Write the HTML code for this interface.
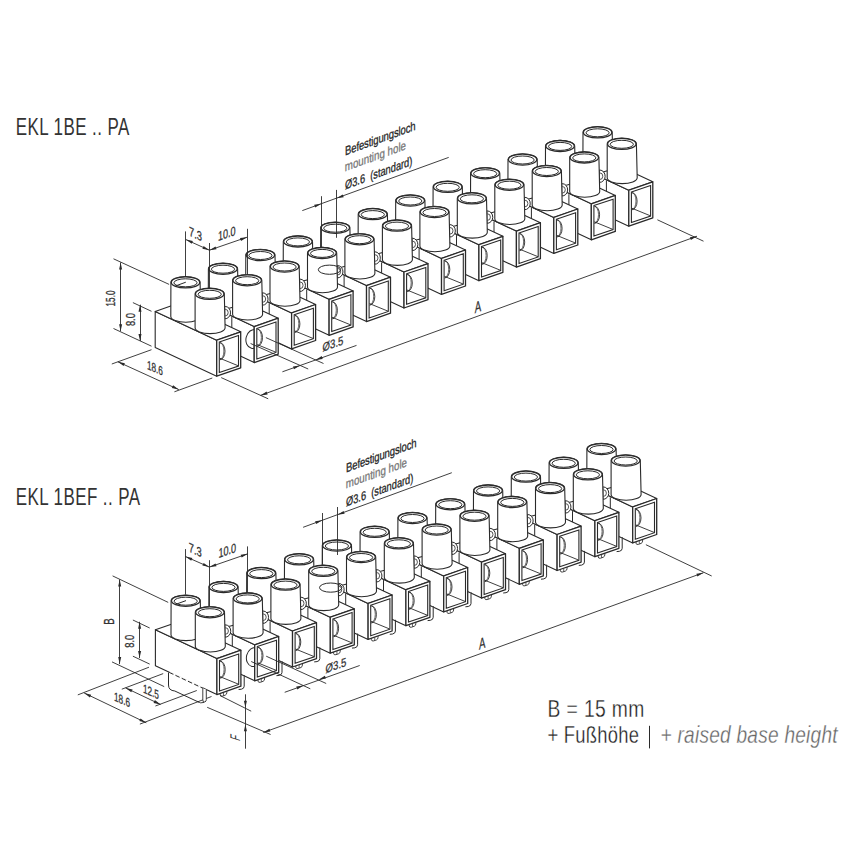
<!DOCTYPE html><html><head><meta charset="utf-8"><style>html,body{margin:0;padding:0;background:#fff;width:850px;height:850px;overflow:hidden}svg{display:block}text{font-family:"Liberation Sans",sans-serif}</style></head><body><svg width="850" height="850" viewBox="0 0 850 850"><rect width="850" height="850" fill="#fff"/><g><polygon points="628.8,190.2 567.3,161.4 567.3,197.4 628.8,226.2" fill="#fff" stroke="#2a2a2a" stroke-width="1.1" stroke-linejoin="round"/><polygon points="628.8,190.2 652.8,181.8 591.3,153 567.3,161.4" fill="#fff" stroke="#2a2a2a" stroke-width="1.1" stroke-linejoin="round"/><polygon points="628.8,190.2 652.8,181.8 652.8,217.8 628.8,226.2" fill="#fff" stroke="#2a2a2a" stroke-width="1.3" stroke-linejoin="round"/><polygon points="631.4,192 650.6,185.6 650.6,216 631.4,222.5" fill="#fff" stroke="#2a2a2a" stroke-width="1.1"/><line x1="631.8" y1="208.2" x2="650.4" y2="215.8" stroke="#2a2a2a" stroke-width="0.9"/><path d="M631.9,192.6 A5.2,8.6 0 0 1 631.9,209.8" fill="none" stroke="#2a2a2a" stroke-width="0.9"/><path d="M632.1,192.8 A3.9,8.2 0 0 1 632.1,209.2" fill="none" stroke="#2a2a2a" stroke-width="0.7"/><path d="M583,132.4 L582.9,166.4 A15,5.8 0 0 0 612.9,166.4 L612.2,132.4 A14.6,5.8 0 0 0 583,132.4 Z" fill="#fff" stroke="#2a2a2a" stroke-width="1.1"/><ellipse cx="597.6" cy="132.4" rx="14.2" ry="5.5" fill="#fff" stroke="#2a2a2a" stroke-width="1.3"/><ellipse cx="597.6" cy="132.8" rx="11.6" ry="4" fill="none" stroke="#2a2a2a" stroke-width="1"/><line x1="606.4" y1="180.6" x2="606.4" y2="194.2" stroke="#2a2a2a" stroke-width="1"/><path d="M607.2,143.9 L607.2,177.8 A15,5.8 0 0 0 637.2,177.8 L636.4,143.9 A14.6,5.8 0 0 0 607.2,143.9 Z" fill="#fff" stroke="#2a2a2a" stroke-width="1.1"/><ellipse cx="621.8" cy="143.9" rx="14.2" ry="5.5" fill="#fff" stroke="#2a2a2a" stroke-width="1.3"/><ellipse cx="621.8" cy="144.3" rx="11.6" ry="4" fill="none" stroke="#2a2a2a" stroke-width="1"/></g><g><polygon points="591.3,203.8 529.8,175 529.8,211 591.3,239.8" fill="#fff" stroke="#2a2a2a" stroke-width="1.1" stroke-linejoin="round"/><polygon points="591.3,203.8 615.3,195.4 553.8,166.6 529.8,175" fill="#fff" stroke="#2a2a2a" stroke-width="1.1" stroke-linejoin="round"/><polygon points="591.3,203.8 615.3,195.4 615.3,231.4 591.3,239.8" fill="#fff" stroke="#2a2a2a" stroke-width="1.3" stroke-linejoin="round"/><polygon points="593.9,205.6 613.1,199.2 613.1,229.6 593.9,236.1" fill="#fff" stroke="#2a2a2a" stroke-width="1.1"/><line x1="594.3" y1="221.8" x2="612.9" y2="229.4" stroke="#2a2a2a" stroke-width="0.9"/><path d="M594.4,206.2 A5.2,8.6 0 0 1 594.4,223.4" fill="none" stroke="#2a2a2a" stroke-width="0.9"/><path d="M594.6,206.4 A3.9,8.2 0 0 1 594.6,222.8" fill="none" stroke="#2a2a2a" stroke-width="0.7"/><path d="M545.5,146 L545.4,180 A15,5.8 0 0 0 575.4,180 L574.7,146 A14.6,5.8 0 0 0 545.5,146 Z" fill="#fff" stroke="#2a2a2a" stroke-width="1.1"/><ellipse cx="560.1" cy="146" rx="14.2" ry="5.5" fill="#fff" stroke="#2a2a2a" stroke-width="1.3"/><ellipse cx="560.1" cy="146.4" rx="11.6" ry="4" fill="none" stroke="#2a2a2a" stroke-width="1"/><line x1="568.9" y1="194.2" x2="568.9" y2="207.8" stroke="#2a2a2a" stroke-width="1"/><path d="M599.3,170 L599.8,170 A5.6,6.2 0 0 1 599.3,182.4 Z" fill="#fff" stroke="#2a2a2a" stroke-width="1"/><path d="M599.8,172.9 A3,3.3 0 0 1 599.8,179.5" fill="none" stroke="#2a2a2a" stroke-width="0.8"/><path d="M569.7,157.5 L569.7,191.4 A15,5.8 0 0 0 599.7,191.4 L598.9,157.5 A14.6,5.8 0 0 0 569.7,157.5 Z" fill="#fff" stroke="#2a2a2a" stroke-width="1.1"/><ellipse cx="584.3" cy="157.5" rx="14.2" ry="5.5" fill="#fff" stroke="#2a2a2a" stroke-width="1.3"/><ellipse cx="584.3" cy="157.9" rx="11.6" ry="4" fill="none" stroke="#2a2a2a" stroke-width="1"/></g><g><polygon points="553.8,217.4 492.3,188.6 492.3,224.6 553.8,253.4" fill="#fff" stroke="#2a2a2a" stroke-width="1.1" stroke-linejoin="round"/><polygon points="553.8,217.4 577.8,209 516.3,180.2 492.3,188.6" fill="#fff" stroke="#2a2a2a" stroke-width="1.1" stroke-linejoin="round"/><polygon points="553.8,217.4 577.8,209 577.8,245 553.8,253.4" fill="#fff" stroke="#2a2a2a" stroke-width="1.3" stroke-linejoin="round"/><polygon points="556.4,219.2 575.6,212.8 575.6,243.2 556.4,249.7" fill="#fff" stroke="#2a2a2a" stroke-width="1.1"/><line x1="556.8" y1="235.4" x2="575.4" y2="243" stroke="#2a2a2a" stroke-width="0.9"/><path d="M556.9,219.8 A5.2,8.6 0 0 1 556.9,237" fill="none" stroke="#2a2a2a" stroke-width="0.9"/><path d="M557.1,220 A3.9,8.2 0 0 1 557.1,236.4" fill="none" stroke="#2a2a2a" stroke-width="0.7"/><path d="M508,159.6 L507.9,193.6 A15,5.8 0 0 0 537.9,193.6 L537.2,159.6 A14.6,5.8 0 0 0 508,159.6 Z" fill="#fff" stroke="#2a2a2a" stroke-width="1.1"/><ellipse cx="522.6" cy="159.6" rx="14.2" ry="5.5" fill="#fff" stroke="#2a2a2a" stroke-width="1.3"/><ellipse cx="522.6" cy="160" rx="11.6" ry="4" fill="none" stroke="#2a2a2a" stroke-width="1"/><line x1="531.4" y1="207.8" x2="531.4" y2="221.4" stroke="#2a2a2a" stroke-width="1"/><path d="M561.8,183.6 L562.3,183.6 A5.6,6.2 0 0 1 561.8,196 Z" fill="#fff" stroke="#2a2a2a" stroke-width="1"/><path d="M562.3,186.5 A3,3.3 0 0 1 562.3,193.1" fill="none" stroke="#2a2a2a" stroke-width="0.8"/><path d="M532.2,171.1 L532.2,205 A15,5.8 0 0 0 562.2,205 L561.4,171.1 A14.6,5.8 0 0 0 532.2,171.1 Z" fill="#fff" stroke="#2a2a2a" stroke-width="1.1"/><ellipse cx="546.8" cy="171.1" rx="14.2" ry="5.5" fill="#fff" stroke="#2a2a2a" stroke-width="1.3"/><ellipse cx="546.8" cy="171.5" rx="11.6" ry="4" fill="none" stroke="#2a2a2a" stroke-width="1"/></g><g><polygon points="516.4,231.1 454.9,202.3 454.9,238.3 516.4,267.1" fill="#fff" stroke="#2a2a2a" stroke-width="1.1" stroke-linejoin="round"/><polygon points="516.4,231.1 540.4,222.7 478.9,193.9 454.9,202.3" fill="#fff" stroke="#2a2a2a" stroke-width="1.1" stroke-linejoin="round"/><polygon points="516.4,231.1 540.4,222.7 540.4,258.7 516.4,267.1" fill="#fff" stroke="#2a2a2a" stroke-width="1.3" stroke-linejoin="round"/><polygon points="519,232.9 538.2,226.5 538.2,256.9 519,263.4" fill="#fff" stroke="#2a2a2a" stroke-width="1.1"/><line x1="519.4" y1="249.1" x2="538" y2="256.7" stroke="#2a2a2a" stroke-width="0.9"/><path d="M519.5,233.5 A5.2,8.6 0 0 1 519.5,250.7" fill="none" stroke="#2a2a2a" stroke-width="0.9"/><path d="M519.7,233.7 A3.9,8.2 0 0 1 519.7,250.1" fill="none" stroke="#2a2a2a" stroke-width="0.7"/><path d="M470.6,173.3 L470.5,207.3 A15,5.8 0 0 0 500.5,207.3 L499.8,173.3 A14.6,5.8 0 0 0 470.6,173.3 Z" fill="#fff" stroke="#2a2a2a" stroke-width="1.1"/><ellipse cx="485.2" cy="173.3" rx="14.2" ry="5.5" fill="#fff" stroke="#2a2a2a" stroke-width="1.3"/><ellipse cx="485.2" cy="173.7" rx="11.6" ry="4" fill="none" stroke="#2a2a2a" stroke-width="1"/><line x1="494" y1="221.5" x2="494" y2="235.1" stroke="#2a2a2a" stroke-width="1"/><path d="M524.4,197.3 L524.9,197.3 A5.6,6.2 0 0 1 524.4,209.7 Z" fill="#fff" stroke="#2a2a2a" stroke-width="1"/><path d="M524.9,200.2 A3,3.3 0 0 1 524.9,206.8" fill="none" stroke="#2a2a2a" stroke-width="0.8"/><path d="M494.8,184.8 L494.8,218.7 A15,5.8 0 0 0 524.8,218.7 L524,184.8 A14.6,5.8 0 0 0 494.8,184.8 Z" fill="#fff" stroke="#2a2a2a" stroke-width="1.1"/><ellipse cx="509.4" cy="184.8" rx="14.2" ry="5.5" fill="#fff" stroke="#2a2a2a" stroke-width="1.3"/><ellipse cx="509.4" cy="185.2" rx="11.6" ry="4" fill="none" stroke="#2a2a2a" stroke-width="1"/></g><g><polygon points="478.9,244.7 417.4,215.9 417.4,251.9 478.9,280.7" fill="#fff" stroke="#2a2a2a" stroke-width="1.1" stroke-linejoin="round"/><polygon points="478.9,244.7 502.9,236.3 441.4,207.5 417.4,215.9" fill="#fff" stroke="#2a2a2a" stroke-width="1.1" stroke-linejoin="round"/><polygon points="478.9,244.7 502.9,236.3 502.9,272.3 478.9,280.7" fill="#fff" stroke="#2a2a2a" stroke-width="1.3" stroke-linejoin="round"/><polygon points="481.5,246.5 500.7,240.1 500.7,270.5 481.5,277" fill="#fff" stroke="#2a2a2a" stroke-width="1.1"/><line x1="481.9" y1="262.7" x2="500.5" y2="270.3" stroke="#2a2a2a" stroke-width="0.9"/><path d="M482,247.1 A5.2,8.6 0 0 1 482,264.3" fill="none" stroke="#2a2a2a" stroke-width="0.9"/><path d="M482.2,247.3 A3.9,8.2 0 0 1 482.2,263.7" fill="none" stroke="#2a2a2a" stroke-width="0.7"/><path d="M433.1,186.9 L433,220.9 A15,5.8 0 0 0 463,220.9 L462.3,186.9 A14.6,5.8 0 0 0 433.1,186.9 Z" fill="#fff" stroke="#2a2a2a" stroke-width="1.1"/><ellipse cx="447.7" cy="186.9" rx="14.2" ry="5.5" fill="#fff" stroke="#2a2a2a" stroke-width="1.3"/><ellipse cx="447.7" cy="187.3" rx="11.6" ry="4" fill="none" stroke="#2a2a2a" stroke-width="1"/><line x1="456.5" y1="235.1" x2="456.5" y2="248.7" stroke="#2a2a2a" stroke-width="1"/><path d="M486.9,210.9 L487.4,210.9 A5.6,6.2 0 0 1 486.9,223.3 Z" fill="#fff" stroke="#2a2a2a" stroke-width="1"/><path d="M487.4,213.8 A3,3.3 0 0 1 487.4,220.4" fill="none" stroke="#2a2a2a" stroke-width="0.8"/><path d="M457.3,198.4 L457.3,232.3 A15,5.8 0 0 0 487.3,232.3 L486.5,198.4 A14.6,5.8 0 0 0 457.3,198.4 Z" fill="#fff" stroke="#2a2a2a" stroke-width="1.1"/><ellipse cx="471.9" cy="198.4" rx="14.2" ry="5.5" fill="#fff" stroke="#2a2a2a" stroke-width="1.3"/><ellipse cx="471.9" cy="198.8" rx="11.6" ry="4" fill="none" stroke="#2a2a2a" stroke-width="1"/></g><g><polygon points="441.5,258.4 380,229.6 380,265.6 441.5,294.4" fill="#fff" stroke="#2a2a2a" stroke-width="1.1" stroke-linejoin="round"/><polygon points="441.5,258.4 465.5,250 404,221.2 380,229.6" fill="#fff" stroke="#2a2a2a" stroke-width="1.1" stroke-linejoin="round"/><polygon points="441.5,258.4 465.5,250 465.5,286 441.5,294.4" fill="#fff" stroke="#2a2a2a" stroke-width="1.3" stroke-linejoin="round"/><polygon points="444.1,260.2 463.3,253.8 463.3,284.2 444.1,290.7" fill="#fff" stroke="#2a2a2a" stroke-width="1.1"/><line x1="444.5" y1="276.4" x2="463.1" y2="284" stroke="#2a2a2a" stroke-width="0.9"/><path d="M444.6,260.8 A5.2,8.6 0 0 1 444.6,278" fill="none" stroke="#2a2a2a" stroke-width="0.9"/><path d="M444.8,261 A3.9,8.2 0 0 1 444.8,277.4" fill="none" stroke="#2a2a2a" stroke-width="0.7"/><path d="M395.7,200.6 L395.6,234.6 A15,5.8 0 0 0 425.6,234.6 L424.9,200.6 A14.6,5.8 0 0 0 395.7,200.6 Z" fill="#fff" stroke="#2a2a2a" stroke-width="1.1"/><ellipse cx="410.3" cy="200.6" rx="14.2" ry="5.5" fill="#fff" stroke="#2a2a2a" stroke-width="1.3"/><ellipse cx="410.3" cy="201" rx="11.6" ry="4" fill="none" stroke="#2a2a2a" stroke-width="1"/><line x1="419.1" y1="248.8" x2="419.1" y2="262.4" stroke="#2a2a2a" stroke-width="1"/><path d="M449.5,224.6 L450,224.6 A5.6,6.2 0 0 1 449.5,237 Z" fill="#fff" stroke="#2a2a2a" stroke-width="1"/><path d="M450,227.5 A3,3.3 0 0 1 450,234.1" fill="none" stroke="#2a2a2a" stroke-width="0.8"/><path d="M419.9,212.1 L419.9,246 A15,5.8 0 0 0 449.9,246 L449.1,212.1 A14.6,5.8 0 0 0 419.9,212.1 Z" fill="#fff" stroke="#2a2a2a" stroke-width="1.1"/><ellipse cx="434.5" cy="212.1" rx="14.2" ry="5.5" fill="#fff" stroke="#2a2a2a" stroke-width="1.3"/><ellipse cx="434.5" cy="212.5" rx="11.6" ry="4" fill="none" stroke="#2a2a2a" stroke-width="1"/></g><g><polygon points="404,272 342.5,243.2 342.5,279.2 404,308" fill="#fff" stroke="#2a2a2a" stroke-width="1.1" stroke-linejoin="round"/><polygon points="404,272 428,263.6 366.5,234.8 342.5,243.2" fill="#fff" stroke="#2a2a2a" stroke-width="1.1" stroke-linejoin="round"/><polygon points="404,272 428,263.6 428,299.6 404,308" fill="#fff" stroke="#2a2a2a" stroke-width="1.3" stroke-linejoin="round"/><polygon points="406.6,273.8 425.8,267.4 425.8,297.8 406.6,304.3" fill="#fff" stroke="#2a2a2a" stroke-width="1.1"/><line x1="407" y1="290" x2="425.6" y2="297.6" stroke="#2a2a2a" stroke-width="0.9"/><path d="M407.1,274.4 A5.2,8.6 0 0 1 407.1,291.6" fill="none" stroke="#2a2a2a" stroke-width="0.9"/><path d="M407.3,274.6 A3.9,8.2 0 0 1 407.3,291" fill="none" stroke="#2a2a2a" stroke-width="0.7"/><path d="M358.2,214.2 L358.1,248.2 A15,5.8 0 0 0 388.1,248.2 L387.4,214.2 A14.6,5.8 0 0 0 358.2,214.2 Z" fill="#fff" stroke="#2a2a2a" stroke-width="1.1"/><ellipse cx="372.8" cy="214.2" rx="14.2" ry="5.5" fill="#fff" stroke="#2a2a2a" stroke-width="1.3"/><ellipse cx="372.8" cy="214.6" rx="11.6" ry="4" fill="none" stroke="#2a2a2a" stroke-width="1"/><line x1="381.6" y1="262.4" x2="381.6" y2="276" stroke="#2a2a2a" stroke-width="1"/><path d="M412,238.2 L412.5,238.2 A5.6,6.2 0 0 1 412,250.6 Z" fill="#fff" stroke="#2a2a2a" stroke-width="1"/><path d="M412.5,241.1 A3,3.3 0 0 1 412.5,247.7" fill="none" stroke="#2a2a2a" stroke-width="0.8"/><path d="M382.4,225.7 L382.4,259.6 A15,5.8 0 0 0 412.4,259.6 L411.6,225.7 A14.6,5.8 0 0 0 382.4,225.7 Z" fill="#fff" stroke="#2a2a2a" stroke-width="1.1"/><ellipse cx="397" cy="225.7" rx="14.2" ry="5.5" fill="#fff" stroke="#2a2a2a" stroke-width="1.3"/><ellipse cx="397" cy="226.1" rx="11.6" ry="4" fill="none" stroke="#2a2a2a" stroke-width="1"/></g><g><polygon points="366.5,285.6 305,256.8 305,292.8 366.5,321.6" fill="#fff" stroke="#2a2a2a" stroke-width="1.1" stroke-linejoin="round"/><polygon points="366.5,285.6 390.5,277.2 329,248.4 305,256.8" fill="#fff" stroke="#2a2a2a" stroke-width="1.1" stroke-linejoin="round"/><polygon points="366.5,285.6 390.5,277.2 390.5,313.2 366.5,321.6" fill="#fff" stroke="#2a2a2a" stroke-width="1.3" stroke-linejoin="round"/><polygon points="369.1,287.4 388.3,281 388.3,311.4 369.1,317.9" fill="#fff" stroke="#2a2a2a" stroke-width="1.1"/><line x1="369.5" y1="303.6" x2="388.1" y2="311.2" stroke="#2a2a2a" stroke-width="0.9"/><path d="M369.6,288 A5.2,8.6 0 0 1 369.6,305.2" fill="none" stroke="#2a2a2a" stroke-width="0.9"/><path d="M369.8,288.2 A3.9,8.2 0 0 1 369.8,304.6" fill="none" stroke="#2a2a2a" stroke-width="0.7"/><path d="M320.7,227.8 L320.6,261.8 A15,5.8 0 0 0 350.6,261.8 L349.9,227.8 A14.6,5.8 0 0 0 320.7,227.8 Z" fill="#fff" stroke="#2a2a2a" stroke-width="1.1"/><ellipse cx="335.3" cy="227.8" rx="14.2" ry="5.5" fill="#fff" stroke="#2a2a2a" stroke-width="1.3"/><ellipse cx="335.3" cy="228.2" rx="11.6" ry="4" fill="none" stroke="#2a2a2a" stroke-width="1"/><line x1="344.1" y1="276" x2="344.1" y2="289.6" stroke="#2a2a2a" stroke-width="1"/><path d="M374.5,251.8 L375,251.8 A5.6,6.2 0 0 1 374.5,264.2 Z" fill="#fff" stroke="#2a2a2a" stroke-width="1"/><path d="M375,254.7 A3,3.3 0 0 1 375,261.3" fill="none" stroke="#2a2a2a" stroke-width="0.8"/><path d="M344.9,239.3 L344.9,273.2 A15,5.8 0 0 0 374.9,273.2 L374.1,239.3 A14.6,5.8 0 0 0 344.9,239.3 Z" fill="#fff" stroke="#2a2a2a" stroke-width="1.1"/><ellipse cx="359.5" cy="239.3" rx="14.2" ry="5.5" fill="#fff" stroke="#2a2a2a" stroke-width="1.3"/><ellipse cx="359.5" cy="239.7" rx="11.6" ry="4" fill="none" stroke="#2a2a2a" stroke-width="1"/></g><g><polygon points="329.1,299.3 267.6,270.5 267.6,306.5 329.1,335.3" fill="#fff" stroke="#2a2a2a" stroke-width="1.1" stroke-linejoin="round"/><polygon points="329.1,299.3 353.1,290.9 291.6,262.1 267.6,270.5" fill="#fff" stroke="#2a2a2a" stroke-width="1.1" stroke-linejoin="round"/><polygon points="329.1,299.3 353.1,290.9 353.1,326.9 329.1,335.3" fill="#fff" stroke="#2a2a2a" stroke-width="1.3" stroke-linejoin="round"/><polygon points="331.7,301.1 350.9,294.7 350.9,325.1 331.7,331.6" fill="#fff" stroke="#2a2a2a" stroke-width="1.1"/><line x1="332.1" y1="317.3" x2="350.7" y2="324.9" stroke="#2a2a2a" stroke-width="0.9"/><path d="M332.2,301.7 A5.2,8.6 0 0 1 332.2,318.9" fill="none" stroke="#2a2a2a" stroke-width="0.9"/><path d="M332.4,301.9 A3.9,8.2 0 0 1 332.4,318.3" fill="none" stroke="#2a2a2a" stroke-width="0.7"/><path d="M283.3,241.5 L283.2,275.5 A15,5.8 0 0 0 313.2,275.5 L312.5,241.5 A14.6,5.8 0 0 0 283.3,241.5 Z" fill="#fff" stroke="#2a2a2a" stroke-width="1.1"/><ellipse cx="297.9" cy="241.5" rx="14.2" ry="5.5" fill="#fff" stroke="#2a2a2a" stroke-width="1.3"/><ellipse cx="297.9" cy="241.9" rx="11.6" ry="4" fill="none" stroke="#2a2a2a" stroke-width="1"/><line x1="306.7" y1="289.7" x2="306.7" y2="303.3" stroke="#2a2a2a" stroke-width="1"/><path d="M337.1,265.5 L337.6,265.5 A5.6,6.2 0 0 1 337.1,277.9 Z" fill="#fff" stroke="#2a2a2a" stroke-width="1"/><path d="M337.6,268.4 A3,3.3 0 0 1 337.6,275" fill="none" stroke="#2a2a2a" stroke-width="0.8"/><path d="M307.5,253 L307.5,286.9 A15,5.8 0 0 0 337.5,286.9 L336.7,253 A14.6,5.8 0 0 0 307.5,253 Z" fill="#fff" stroke="#2a2a2a" stroke-width="1.1"/><ellipse cx="322.1" cy="253" rx="14.2" ry="5.5" fill="#fff" stroke="#2a2a2a" stroke-width="1.3"/><ellipse cx="322.1" cy="253.4" rx="11.6" ry="4" fill="none" stroke="#2a2a2a" stroke-width="1"/><ellipse cx="329.5" cy="269.7" rx="11.2" ry="4.6" fill="none" stroke="#2a2a2a" stroke-width="1"/></g><g><polygon points="291.6,312.9 230.1,284.1 230.1,320.1 291.6,348.9" fill="#fff" stroke="#2a2a2a" stroke-width="1.1" stroke-linejoin="round"/><polygon points="291.6,312.9 315.6,304.5 254.1,275.7 230.1,284.1" fill="#fff" stroke="#2a2a2a" stroke-width="1.1" stroke-linejoin="round"/><polygon points="291.6,312.9 315.6,304.5 315.6,340.5 291.6,348.9" fill="#fff" stroke="#2a2a2a" stroke-width="1.3" stroke-linejoin="round"/><polygon points="294.2,314.7 313.4,308.3 313.4,338.7 294.2,345.2" fill="#fff" stroke="#2a2a2a" stroke-width="1.1"/><line x1="294.6" y1="330.9" x2="313.2" y2="338.5" stroke="#2a2a2a" stroke-width="0.9"/><path d="M294.7,315.3 A5.2,8.6 0 0 1 294.7,332.5" fill="none" stroke="#2a2a2a" stroke-width="0.9"/><path d="M294.9,315.5 A3.9,8.2 0 0 1 294.9,331.9" fill="none" stroke="#2a2a2a" stroke-width="0.7"/><path d="M245.8,255.1 L245.7,289.1 A15,5.8 0 0 0 275.7,289.1 L275,255.1 A14.6,5.8 0 0 0 245.8,255.1 Z" fill="#fff" stroke="#2a2a2a" stroke-width="1.1"/><ellipse cx="260.4" cy="255.1" rx="14.2" ry="5.5" fill="#fff" stroke="#2a2a2a" stroke-width="1.3"/><ellipse cx="260.4" cy="255.5" rx="11.6" ry="4" fill="none" stroke="#2a2a2a" stroke-width="1"/><line x1="269.2" y1="303.3" x2="269.2" y2="316.9" stroke="#2a2a2a" stroke-width="1"/><path d="M299.6,279.1 L300.1,279.1 A5.6,6.2 0 0 1 299.6,291.5 Z" fill="#fff" stroke="#2a2a2a" stroke-width="1"/><path d="M300.1,282 A3,3.3 0 0 1 300.1,288.6" fill="none" stroke="#2a2a2a" stroke-width="0.8"/><path d="M270,266.6 L270,300.5 A15,5.8 0 0 0 300,300.5 L299.2,266.6 A14.6,5.8 0 0 0 270,266.6 Z" fill="#fff" stroke="#2a2a2a" stroke-width="1.1"/><ellipse cx="284.6" cy="266.6" rx="14.2" ry="5.5" fill="#fff" stroke="#2a2a2a" stroke-width="1.3"/><ellipse cx="284.6" cy="267" rx="11.6" ry="4" fill="none" stroke="#2a2a2a" stroke-width="1"/></g><g><polygon points="254.2,326.6 192.7,297.8 192.7,333.8 254.2,362.6" fill="#fff" stroke="#2a2a2a" stroke-width="1.1" stroke-linejoin="round"/><polygon points="254.2,326.6 278.2,318.2 216.7,289.4 192.7,297.8" fill="#fff" stroke="#2a2a2a" stroke-width="1.1" stroke-linejoin="round"/><ellipse cx="253.7" cy="338.9" rx="7.7" ry="9.6" transform="rotate(14 253.7 338.9)" fill="none" stroke="#2a2a2a" stroke-width="1"/><polygon points="254.2,326.6 278.2,318.2 278.2,354.2 254.2,362.6" fill="#fff" stroke="#2a2a2a" stroke-width="1.3" stroke-linejoin="round"/><polygon points="256.8,328.4 276,322 276,352.4 256.8,358.9" fill="#fff" stroke="#2a2a2a" stroke-width="1.1"/><line x1="257.2" y1="344.6" x2="275.8" y2="352.2" stroke="#2a2a2a" stroke-width="0.9"/><path d="M257.3,329 A5.2,8.6 0 0 1 257.3,346.2" fill="none" stroke="#2a2a2a" stroke-width="0.9"/><path d="M257.5,329.2 A3.9,8.2 0 0 1 257.5,345.6" fill="none" stroke="#2a2a2a" stroke-width="0.7"/><path d="M208.4,268.8 L208.3,302.8 A15,5.8 0 0 0 238.3,302.8 L237.6,268.8 A14.6,5.8 0 0 0 208.4,268.8 Z" fill="#fff" stroke="#2a2a2a" stroke-width="1.1"/><ellipse cx="223" cy="268.8" rx="14.2" ry="5.5" fill="#fff" stroke="#2a2a2a" stroke-width="1.3"/><ellipse cx="223" cy="269.2" rx="11.6" ry="4" fill="none" stroke="#2a2a2a" stroke-width="1"/><line x1="231.8" y1="317" x2="231.8" y2="330.6" stroke="#2a2a2a" stroke-width="1"/><path d="M262.2,292.8 L262.7,292.8 A5.6,6.2 0 0 1 262.2,305.2 Z" fill="#fff" stroke="#2a2a2a" stroke-width="1"/><path d="M262.7,295.7 A3,3.3 0 0 1 262.7,302.3" fill="none" stroke="#2a2a2a" stroke-width="0.8"/><path d="M232.6,280.3 L232.6,314.2 A15,5.8 0 0 0 262.6,314.2 L261.8,280.3 A14.6,5.8 0 0 0 232.6,280.3 Z" fill="#fff" stroke="#2a2a2a" stroke-width="1.1"/><ellipse cx="247.2" cy="280.3" rx="14.2" ry="5.5" fill="#fff" stroke="#2a2a2a" stroke-width="1.3"/><ellipse cx="247.2" cy="280.7" rx="11.6" ry="4" fill="none" stroke="#2a2a2a" stroke-width="1"/></g><g><polygon points="216.7,340.2 155.2,311.4 155.2,347.4 216.7,376.2" fill="#fff" stroke="#2a2a2a" stroke-width="1.1" stroke-linejoin="round"/><polygon points="216.7,340.2 240.7,331.8 179.2,303 155.2,311.4" fill="#fff" stroke="#2a2a2a" stroke-width="1.1" stroke-linejoin="round"/><polygon points="216.7,340.2 240.7,331.8 240.7,367.8 216.7,376.2" fill="#fff" stroke="#2a2a2a" stroke-width="1.3" stroke-linejoin="round"/><polygon points="219.3,342 238.5,335.6 238.5,366 219.3,372.5" fill="#fff" stroke="#2a2a2a" stroke-width="1.1"/><line x1="219.7" y1="358.2" x2="238.3" y2="365.8" stroke="#2a2a2a" stroke-width="0.9"/><path d="M219.8,342.6 A5.2,8.6 0 0 1 219.8,359.8" fill="none" stroke="#2a2a2a" stroke-width="0.9"/><path d="M220,342.8 A3.9,8.2 0 0 1 220,359.2" fill="none" stroke="#2a2a2a" stroke-width="0.7"/><path d="M170.9,282.4 L170.8,316.4 A15,5.8 0 0 0 200.8,316.4 L200.1,282.4 A14.6,5.8 0 0 0 170.9,282.4 Z" fill="#fff" stroke="#2a2a2a" stroke-width="1.1"/><ellipse cx="185.5" cy="282.4" rx="14.2" ry="5.5" fill="#fff" stroke="#2a2a2a" stroke-width="1.3"/><ellipse cx="185.5" cy="282.8" rx="11.6" ry="4" fill="none" stroke="#2a2a2a" stroke-width="1"/><line x1="175.4" y1="286" x2="185.8" y2="282.2" stroke="#2a2a2a" stroke-width="1"/><path d="M224.7,306.4 L225.2,306.4 A5.6,6.2 0 0 1 224.7,318.8 Z" fill="#fff" stroke="#2a2a2a" stroke-width="1"/><path d="M225.2,309.3 A3,3.3 0 0 1 225.2,315.9" fill="none" stroke="#2a2a2a" stroke-width="0.8"/><path d="M195.1,293.9 L195.1,327.8 A15,5.8 0 0 0 225.1,327.8 L224.3,293.9 A14.6,5.8 0 0 0 195.1,293.9 Z" fill="#fff" stroke="#2a2a2a" stroke-width="1.1"/><ellipse cx="209.7" cy="293.9" rx="14.2" ry="5.5" fill="#fff" stroke="#2a2a2a" stroke-width="1.3"/><ellipse cx="209.7" cy="294.3" rx="11.6" ry="4" fill="none" stroke="#2a2a2a" stroke-width="1"/></g><line x1="185.5" y1="231.4" x2="185.5" y2="276.9" stroke="#2a2a2a" stroke-width="0.9"/><line x1="209.5" y1="243" x2="209.5" y2="288" stroke="#2a2a2a" stroke-width="0.9"/><line x1="247.5" y1="228.8" x2="247.5" y2="274.8" stroke="#2a2a2a" stroke-width="0.9"/><line x1="185.9" y1="239.6" x2="209.4" y2="250.2" stroke="#2a2a2a" stroke-width="0.9"/><polygon points="185.9,239.6 192.9,241.1 191.7,243.8" fill="#2a2a2a"/><polygon points="209.4,250.2 202.4,248.7 203.6,246" fill="#2a2a2a"/><line x1="209.4" y1="250.2" x2="247.1" y2="237.2" stroke="#2a2a2a" stroke-width="0.9"/><polygon points="209.4,250.2 215.5,246.5 216.5,249.3" fill="#2a2a2a"/><polygon points="247.1,237.2 241,240.9 240,238.1" fill="#2a2a2a"/><text x="0" y="0" font-size="13" fill="#333" text-anchor="middle" transform="translate(195.5,238.5) skewY(24) scale(0.72,1)" stroke="#333" stroke-width="0.3">7.3</text><text x="0" y="0" font-size="13" fill="#333" text-anchor="middle" transform="translate(226.8,238) skewY(-19) scale(0.7,1)" stroke="#333" stroke-width="0.3">10.0</text><line x1="113.5" y1="258.8" x2="169.1" y2="284.4" stroke="#2a2a2a" stroke-width="0.9"/><line x1="113.5" y1="328.5" x2="151.5" y2="346.2" stroke="#2a2a2a" stroke-width="0.9"/><line x1="120.5" y1="262.4" x2="120.5" y2="331.2" stroke="#2a2a2a" stroke-width="0.9"/><polygon points="120.6,262.4 122.1,269.4 119.1,269.4" fill="#2a2a2a"/><polygon points="120.6,331.2 119.1,324.2 122.1,324.2" fill="#2a2a2a"/><text x="0" y="0" font-size="12" fill="#333" text-anchor="middle" transform="translate(114.8,298.5) rotate(-90) scale(0.68,1)" stroke="#333" stroke-width="0.3">15.0</text><line x1="132.9" y1="302.6" x2="151.5" y2="311.3" stroke="#2a2a2a" stroke-width="0.9"/><line x1="140.5" y1="304.7" x2="140.5" y2="340.9" stroke="#2a2a2a" stroke-width="0.9"/><polygon points="140,304.7 141.5,311.7 138.5,311.7" fill="#2a2a2a"/><polygon points="140,340.9 138.5,333.9 141.5,333.9" fill="#2a2a2a"/><text x="0" y="0" font-size="12" fill="#333" text-anchor="middle" transform="translate(134.5,319.6) rotate(-90) scale(0.78,1)" stroke="#333" stroke-width="0.3">8.0</text><line x1="151.5" y1="349.7" x2="111.8" y2="364" stroke="#2a2a2a" stroke-width="0.9"/><line x1="212.3" y1="378" x2="174.4" y2="391.8" stroke="#2a2a2a" stroke-width="0.9"/><line x1="117.9" y1="361.8" x2="178.8" y2="389.6" stroke="#2a2a2a" stroke-width="0.9"/><polygon points="117.9,361.8 124.9,363.3 123.6,366.1" fill="#2a2a2a"/><polygon points="178.8,389.6 171.8,388.1 173.1,385.3" fill="#2a2a2a"/><text x="0" y="0" font-size="12.5" fill="#333" text-anchor="middle" transform="translate(154.9,372.3) skewY(23) scale(0.66,1)" stroke="#333" stroke-width="0.3">18.6</text><line x1="221.2" y1="377.6" x2="268.2" y2="398.8" stroke="#2a2a2a" stroke-width="0.9"/><line x1="657.4" y1="219.8" x2="703.5" y2="241.2" stroke="#2a2a2a" stroke-width="0.9"/><line x1="260.5" y1="395.4" x2="697" y2="236.2" stroke="#2a2a2a" stroke-width="0.9"/><polygon points="260.5,395.4 266.6,391.6 267.6,394.4" fill="#2a2a2a"/><polygon points="697,236.2 690.9,240 689.9,237.2" fill="#2a2a2a"/><text x="0" y="0" font-size="15.5" fill="#333" text-anchor="middle" transform="translate(478,312) skewY(-20) scale(0.62,1)" stroke="#333" stroke-width="0.3">A</text><line x1="250.6" y1="343.5" x2="308.2" y2="369" stroke="#2a2a2a" stroke-width="0.9"/><line x1="265.9" y1="337.6" x2="323.5" y2="363.5" stroke="#2a2a2a" stroke-width="0.9"/><line x1="282.4" y1="371.8" x2="356.5" y2="345.4" stroke="#2a2a2a" stroke-width="0.9"/><polygon points="300.1,365.5 294,369.3 293,366.4" fill="#2a2a2a"/><polygon points="315.6,359.9 321.7,356.1 322.7,359" fill="#2a2a2a"/><text x="0" y="0" font-size="12" fill="#333" text-anchor="middle" transform="translate(333,348) skewY(-20) scale(0.8,1)" stroke="#333" stroke-width="0.3">&#216;3.5</text><line x1="321.5" y1="196.2" x2="321.5" y2="247" stroke="#2a2a2a" stroke-width="0.9"/><line x1="336.5" y1="189.9" x2="336.5" y2="237.8" stroke="#2a2a2a" stroke-width="0.9"/><line x1="302.3" y1="210.6" x2="448.7" y2="157.4" stroke="#2a2a2a" stroke-width="0.9"/><polygon points="321.3,203.7 315.2,207.5 314.2,204.7" fill="#2a2a2a"/><polygon points="336.6,198.2 342.7,194.4 343.7,197.2" fill="#2a2a2a"/><text x="0" y="0" font-size="12.5" fill="#262626" text-anchor="start" transform="translate(345,155.5) skewY(-20) scale(0.76,1)" letter-spacing="-0.15" stroke="#262626" stroke-width="0.3">Befestigungsloch</text><text x="0" y="0" font-size="12.5" fill="#777777" text-anchor="start" transform="translate(344.8,171.5) skewY(-20) scale(0.78,1)" stroke="#777777" stroke-width="0.3">mounting hole</text><text x="0" y="0" font-size="12.5" fill="#262626" text-anchor="start" transform="translate(345,189.5) skewY(-20) scale(0.74,1)" stroke="#262626" stroke-width="0.3">&#216;3.6&#160;&#160;(standard)</text><text x="0" y="0" font-size="24" fill="#333" text-anchor="start" transform="translate(15.8,135.2) scale(0.707,1)" letter-spacing="0.6">EKL 1BE .. PA</text><g><path d="M636,541.5 L636,543.2 Q636.2,544.9 638.3,544.4 L641.1,543.4 Q642.6,542.7 642.6,541.1 L642.6,539.3" fill="#fff" stroke="#2a2a2a" stroke-width="0.9"/><line x1="639.3" y1="540.7" x2="639.3" y2="543.9" stroke="#2a2a2a" stroke-width="0.7"/><polygon points="632.7,506.9 571.2,478.1 571.2,514.1 632.7,542.9" fill="#fff" stroke="#2a2a2a" stroke-width="1.1" stroke-linejoin="round"/><polygon points="632.7,506.9 656.7,498.5 595.2,469.7 571.2,478.1" fill="#fff" stroke="#2a2a2a" stroke-width="1.1" stroke-linejoin="round"/><polygon points="632.7,506.9 656.7,498.5 656.7,534.5 632.7,542.9" fill="#fff" stroke="#2a2a2a" stroke-width="1.3" stroke-linejoin="round"/><polygon points="635.3,508.7 654.5,502.3 654.5,532.7 635.3,539.2" fill="#fff" stroke="#2a2a2a" stroke-width="1.1"/><line x1="635.7" y1="524.9" x2="654.3" y2="532.5" stroke="#2a2a2a" stroke-width="0.9"/><path d="M635.8,509.3 A5.2,8.6 0 0 1 635.8,526.5" fill="none" stroke="#2a2a2a" stroke-width="0.9"/><path d="M636,509.5 A3.9,8.2 0 0 1 636,525.9" fill="none" stroke="#2a2a2a" stroke-width="0.7"/><path d="M586.9,449.1 L586.8,483.1 A15,5.8 0 0 0 616.8,483.1 L616.1,449.1 A14.6,5.8 0 0 0 586.9,449.1 Z" fill="#fff" stroke="#2a2a2a" stroke-width="1.1"/><ellipse cx="601.5" cy="449.1" rx="14.2" ry="5.5" fill="#fff" stroke="#2a2a2a" stroke-width="1.3"/><ellipse cx="601.5" cy="449.5" rx="11.6" ry="4" fill="none" stroke="#2a2a2a" stroke-width="1"/><line x1="610.3" y1="497.3" x2="610.3" y2="510.9" stroke="#2a2a2a" stroke-width="1"/><path d="M611.1,460.6 L611.1,494.5 A15,5.8 0 0 0 641.1,494.5 L640.3,460.6 A14.6,5.8 0 0 0 611.1,460.6 Z" fill="#fff" stroke="#2a2a2a" stroke-width="1.1"/><ellipse cx="625.7" cy="460.6" rx="14.2" ry="5.5" fill="#fff" stroke="#2a2a2a" stroke-width="1.3"/><ellipse cx="625.7" cy="461" rx="11.6" ry="4" fill="none" stroke="#2a2a2a" stroke-width="1"/></g><g><path d="M622.2,537.1 L622.2,548.3 Q622.2,550.7 619.4,551.3 L616.6,551.6" fill="#fff" stroke="#2a2a2a" stroke-width="1"/><path d="M598.2,555.3 L598.2,557 Q598.4,558.7 600.5,558.2 L603.3,557.2 Q604.8,556.5 604.8,554.9 L604.8,553.1" fill="#fff" stroke="#2a2a2a" stroke-width="0.9"/><line x1="601.5" y1="554.5" x2="601.5" y2="557.7" stroke="#2a2a2a" stroke-width="0.7"/><polygon points="594.9,520.7 533.4,491.9 533.4,527.9 594.9,556.7" fill="#fff" stroke="#2a2a2a" stroke-width="1.1" stroke-linejoin="round"/><polygon points="594.9,520.7 618.9,512.3 557.4,483.5 533.4,491.9" fill="#fff" stroke="#2a2a2a" stroke-width="1.1" stroke-linejoin="round"/><polygon points="594.9,520.7 618.9,512.3 618.9,548.3 594.9,556.7" fill="#fff" stroke="#2a2a2a" stroke-width="1.3" stroke-linejoin="round"/><polygon points="597.5,522.5 616.7,516.1 616.7,546.5 597.5,553" fill="#fff" stroke="#2a2a2a" stroke-width="1.1"/><line x1="597.9" y1="538.7" x2="616.5" y2="546.3" stroke="#2a2a2a" stroke-width="0.9"/><path d="M598,523.1 A5.2,8.6 0 0 1 598,540.3" fill="none" stroke="#2a2a2a" stroke-width="0.9"/><path d="M598.2,523.3 A3.9,8.2 0 0 1 598.2,539.7" fill="none" stroke="#2a2a2a" stroke-width="0.7"/><path d="M549.1,462.9 L549,496.9 A15,5.8 0 0 0 579,496.9 L578.3,462.9 A14.6,5.8 0 0 0 549.1,462.9 Z" fill="#fff" stroke="#2a2a2a" stroke-width="1.1"/><ellipse cx="563.7" cy="462.9" rx="14.2" ry="5.5" fill="#fff" stroke="#2a2a2a" stroke-width="1.3"/><ellipse cx="563.7" cy="463.3" rx="11.6" ry="4" fill="none" stroke="#2a2a2a" stroke-width="1"/><line x1="572.5" y1="511.1" x2="572.5" y2="524.7" stroke="#2a2a2a" stroke-width="1"/><path d="M602.9,486.9 L603.4,486.9 A5.6,6.2 0 0 1 602.9,499.3 Z" fill="#fff" stroke="#2a2a2a" stroke-width="1"/><path d="M603.4,489.8 A3,3.3 0 0 1 603.4,496.4" fill="none" stroke="#2a2a2a" stroke-width="0.8"/><path d="M573.3,474.4 L573.3,508.3 A15,5.8 0 0 0 603.3,508.3 L602.5,474.4 A14.6,5.8 0 0 0 573.3,474.4 Z" fill="#fff" stroke="#2a2a2a" stroke-width="1.1"/><ellipse cx="587.9" cy="474.4" rx="14.2" ry="5.5" fill="#fff" stroke="#2a2a2a" stroke-width="1.3"/><ellipse cx="587.9" cy="474.8" rx="11.6" ry="4" fill="none" stroke="#2a2a2a" stroke-width="1"/></g><g><path d="M584.4,550.9 L584.4,562.1 Q584.4,564.5 581.6,565.1 L578.8,565.4" fill="#fff" stroke="#2a2a2a" stroke-width="1"/><path d="M560.4,569.1 L560.4,570.8 Q560.6,572.5 562.7,572 L565.5,571 Q567,570.3 567,568.7 L567,566.9" fill="#fff" stroke="#2a2a2a" stroke-width="0.9"/><line x1="563.7" y1="568.3" x2="563.7" y2="571.5" stroke="#2a2a2a" stroke-width="0.7"/><polygon points="557.1,534.5 495.6,505.7 495.6,541.7 557.1,570.5" fill="#fff" stroke="#2a2a2a" stroke-width="1.1" stroke-linejoin="round"/><polygon points="557.1,534.5 581.1,526.1 519.6,497.3 495.6,505.7" fill="#fff" stroke="#2a2a2a" stroke-width="1.1" stroke-linejoin="round"/><polygon points="557.1,534.5 581.1,526.1 581.1,562.1 557.1,570.5" fill="#fff" stroke="#2a2a2a" stroke-width="1.3" stroke-linejoin="round"/><polygon points="559.7,536.3 578.9,529.9 578.9,560.3 559.7,566.8" fill="#fff" stroke="#2a2a2a" stroke-width="1.1"/><line x1="560.1" y1="552.5" x2="578.7" y2="560.1" stroke="#2a2a2a" stroke-width="0.9"/><path d="M560.2,536.9 A5.2,8.6 0 0 1 560.2,554.1" fill="none" stroke="#2a2a2a" stroke-width="0.9"/><path d="M560.4,537.1 A3.9,8.2 0 0 1 560.4,553.5" fill="none" stroke="#2a2a2a" stroke-width="0.7"/><path d="M511.3,476.7 L511.2,510.7 A15,5.8 0 0 0 541.2,510.7 L540.5,476.7 A14.6,5.8 0 0 0 511.3,476.7 Z" fill="#fff" stroke="#2a2a2a" stroke-width="1.1"/><ellipse cx="525.9" cy="476.7" rx="14.2" ry="5.5" fill="#fff" stroke="#2a2a2a" stroke-width="1.3"/><ellipse cx="525.9" cy="477.1" rx="11.6" ry="4" fill="none" stroke="#2a2a2a" stroke-width="1"/><line x1="534.7" y1="524.9" x2="534.7" y2="538.5" stroke="#2a2a2a" stroke-width="1"/><path d="M565.1,500.7 L565.6,500.7 A5.6,6.2 0 0 1 565.1,513.1 Z" fill="#fff" stroke="#2a2a2a" stroke-width="1"/><path d="M565.6,503.6 A3,3.3 0 0 1 565.6,510.2" fill="none" stroke="#2a2a2a" stroke-width="0.8"/><path d="M535.5,488.2 L535.5,522.1 A15,5.8 0 0 0 565.5,522.1 L564.7,488.2 A14.6,5.8 0 0 0 535.5,488.2 Z" fill="#fff" stroke="#2a2a2a" stroke-width="1.1"/><ellipse cx="550.1" cy="488.2" rx="14.2" ry="5.5" fill="#fff" stroke="#2a2a2a" stroke-width="1.3"/><ellipse cx="550.1" cy="488.6" rx="11.6" ry="4" fill="none" stroke="#2a2a2a" stroke-width="1"/></g><g><path d="M546.6,564.7 L546.6,575.9 Q546.6,578.3 543.8,578.9 L541,579.2" fill="#fff" stroke="#2a2a2a" stroke-width="1"/><path d="M522.6,582.9 L522.6,584.6 Q522.8,586.3 524.9,585.8 L527.7,584.8 Q529.2,584.1 529.2,582.5 L529.2,580.7" fill="#fff" stroke="#2a2a2a" stroke-width="0.9"/><line x1="525.9" y1="582.1" x2="525.9" y2="585.3" stroke="#2a2a2a" stroke-width="0.7"/><polygon points="519.3,548.3 457.8,519.5 457.8,555.5 519.3,584.3" fill="#fff" stroke="#2a2a2a" stroke-width="1.1" stroke-linejoin="round"/><polygon points="519.3,548.3 543.3,539.9 481.8,511.1 457.8,519.5" fill="#fff" stroke="#2a2a2a" stroke-width="1.1" stroke-linejoin="round"/><polygon points="519.3,548.3 543.3,539.9 543.3,575.9 519.3,584.3" fill="#fff" stroke="#2a2a2a" stroke-width="1.3" stroke-linejoin="round"/><polygon points="521.9,550.1 541.1,543.7 541.1,574.1 521.9,580.6" fill="#fff" stroke="#2a2a2a" stroke-width="1.1"/><line x1="522.3" y1="566.3" x2="540.9" y2="573.9" stroke="#2a2a2a" stroke-width="0.9"/><path d="M522.4,550.7 A5.2,8.6 0 0 1 522.4,567.9" fill="none" stroke="#2a2a2a" stroke-width="0.9"/><path d="M522.6,550.9 A3.9,8.2 0 0 1 522.6,567.3" fill="none" stroke="#2a2a2a" stroke-width="0.7"/><path d="M473.5,490.5 L473.4,524.5 A15,5.8 0 0 0 503.4,524.5 L502.7,490.5 A14.6,5.8 0 0 0 473.5,490.5 Z" fill="#fff" stroke="#2a2a2a" stroke-width="1.1"/><ellipse cx="488.1" cy="490.5" rx="14.2" ry="5.5" fill="#fff" stroke="#2a2a2a" stroke-width="1.3"/><ellipse cx="488.1" cy="490.9" rx="11.6" ry="4" fill="none" stroke="#2a2a2a" stroke-width="1"/><line x1="496.9" y1="538.7" x2="496.9" y2="552.3" stroke="#2a2a2a" stroke-width="1"/><path d="M527.3,514.5 L527.8,514.5 A5.6,6.2 0 0 1 527.3,526.9 Z" fill="#fff" stroke="#2a2a2a" stroke-width="1"/><path d="M527.8,517.4 A3,3.3 0 0 1 527.8,524" fill="none" stroke="#2a2a2a" stroke-width="0.8"/><path d="M497.7,502 L497.7,535.9 A15,5.8 0 0 0 527.7,535.9 L526.9,502 A14.6,5.8 0 0 0 497.7,502 Z" fill="#fff" stroke="#2a2a2a" stroke-width="1.1"/><ellipse cx="512.3" cy="502" rx="14.2" ry="5.5" fill="#fff" stroke="#2a2a2a" stroke-width="1.3"/><ellipse cx="512.3" cy="502.4" rx="11.6" ry="4" fill="none" stroke="#2a2a2a" stroke-width="1"/></g><g><path d="M508.8,578.5 L508.8,589.7 Q508.8,592.1 506,592.7 L503.2,593" fill="#fff" stroke="#2a2a2a" stroke-width="1"/><path d="M484.8,596.7 L484.8,598.4 Q485,600.1 487.1,599.6 L489.9,598.6 Q491.4,597.9 491.4,596.3 L491.4,594.5" fill="#fff" stroke="#2a2a2a" stroke-width="0.9"/><line x1="488.1" y1="595.9" x2="488.1" y2="599.1" stroke="#2a2a2a" stroke-width="0.7"/><polygon points="481.5,562.1 420,533.3 420,569.3 481.5,598.1" fill="#fff" stroke="#2a2a2a" stroke-width="1.1" stroke-linejoin="round"/><polygon points="481.5,562.1 505.5,553.7 444,524.9 420,533.3" fill="#fff" stroke="#2a2a2a" stroke-width="1.1" stroke-linejoin="round"/><polygon points="481.5,562.1 505.5,553.7 505.5,589.7 481.5,598.1" fill="#fff" stroke="#2a2a2a" stroke-width="1.3" stroke-linejoin="round"/><polygon points="484.1,563.9 503.3,557.5 503.3,587.9 484.1,594.4" fill="#fff" stroke="#2a2a2a" stroke-width="1.1"/><line x1="484.5" y1="580.1" x2="503.1" y2="587.7" stroke="#2a2a2a" stroke-width="0.9"/><path d="M484.6,564.5 A5.2,8.6 0 0 1 484.6,581.7" fill="none" stroke="#2a2a2a" stroke-width="0.9"/><path d="M484.8,564.7 A3.9,8.2 0 0 1 484.8,581.1" fill="none" stroke="#2a2a2a" stroke-width="0.7"/><path d="M435.7,504.3 L435.6,538.3 A15,5.8 0 0 0 465.6,538.3 L464.9,504.3 A14.6,5.8 0 0 0 435.7,504.3 Z" fill="#fff" stroke="#2a2a2a" stroke-width="1.1"/><ellipse cx="450.3" cy="504.3" rx="14.2" ry="5.5" fill="#fff" stroke="#2a2a2a" stroke-width="1.3"/><ellipse cx="450.3" cy="504.7" rx="11.6" ry="4" fill="none" stroke="#2a2a2a" stroke-width="1"/><line x1="459.1" y1="552.5" x2="459.1" y2="566.1" stroke="#2a2a2a" stroke-width="1"/><path d="M489.5,528.3 L490,528.3 A5.6,6.2 0 0 1 489.5,540.7 Z" fill="#fff" stroke="#2a2a2a" stroke-width="1"/><path d="M490,531.2 A3,3.3 0 0 1 490,537.8" fill="none" stroke="#2a2a2a" stroke-width="0.8"/><path d="M459.9,515.8 L459.9,549.7 A15,5.8 0 0 0 489.9,549.7 L489.1,515.8 A14.6,5.8 0 0 0 459.9,515.8 Z" fill="#fff" stroke="#2a2a2a" stroke-width="1.1"/><ellipse cx="474.5" cy="515.8" rx="14.2" ry="5.5" fill="#fff" stroke="#2a2a2a" stroke-width="1.3"/><ellipse cx="474.5" cy="516.2" rx="11.6" ry="4" fill="none" stroke="#2a2a2a" stroke-width="1"/></g><g><path d="M471,592.3 L471,603.5 Q471,605.9 468.2,606.5 L465.4,606.8" fill="#fff" stroke="#2a2a2a" stroke-width="1"/><path d="M447,610.5 L447,612.2 Q447.2,613.9 449.3,613.4 L452.1,612.4 Q453.6,611.7 453.6,610.1 L453.6,608.3" fill="#fff" stroke="#2a2a2a" stroke-width="0.9"/><line x1="450.3" y1="609.7" x2="450.3" y2="612.9" stroke="#2a2a2a" stroke-width="0.7"/><polygon points="443.7,575.9 382.2,547.1 382.2,583.1 443.7,611.9" fill="#fff" stroke="#2a2a2a" stroke-width="1.1" stroke-linejoin="round"/><polygon points="443.7,575.9 467.7,567.5 406.2,538.7 382.2,547.1" fill="#fff" stroke="#2a2a2a" stroke-width="1.1" stroke-linejoin="round"/><polygon points="443.7,575.9 467.7,567.5 467.7,603.5 443.7,611.9" fill="#fff" stroke="#2a2a2a" stroke-width="1.3" stroke-linejoin="round"/><polygon points="446.3,577.7 465.5,571.3 465.5,601.7 446.3,608.2" fill="#fff" stroke="#2a2a2a" stroke-width="1.1"/><line x1="446.7" y1="593.9" x2="465.3" y2="601.5" stroke="#2a2a2a" stroke-width="0.9"/><path d="M446.8,578.3 A5.2,8.6 0 0 1 446.8,595.5" fill="none" stroke="#2a2a2a" stroke-width="0.9"/><path d="M447,578.5 A3.9,8.2 0 0 1 447,594.9" fill="none" stroke="#2a2a2a" stroke-width="0.7"/><path d="M397.9,518.1 L397.8,552.1 A15,5.8 0 0 0 427.8,552.1 L427.1,518.1 A14.6,5.8 0 0 0 397.9,518.1 Z" fill="#fff" stroke="#2a2a2a" stroke-width="1.1"/><ellipse cx="412.5" cy="518.1" rx="14.2" ry="5.5" fill="#fff" stroke="#2a2a2a" stroke-width="1.3"/><ellipse cx="412.5" cy="518.5" rx="11.6" ry="4" fill="none" stroke="#2a2a2a" stroke-width="1"/><line x1="421.3" y1="566.3" x2="421.3" y2="579.9" stroke="#2a2a2a" stroke-width="1"/><path d="M451.7,542.1 L452.2,542.1 A5.6,6.2 0 0 1 451.7,554.5 Z" fill="#fff" stroke="#2a2a2a" stroke-width="1"/><path d="M452.2,545 A3,3.3 0 0 1 452.2,551.6" fill="none" stroke="#2a2a2a" stroke-width="0.8"/><path d="M422.1,529.6 L422.1,563.5 A15,5.8 0 0 0 452.1,563.5 L451.3,529.6 A14.6,5.8 0 0 0 422.1,529.6 Z" fill="#fff" stroke="#2a2a2a" stroke-width="1.1"/><ellipse cx="436.7" cy="529.6" rx="14.2" ry="5.5" fill="#fff" stroke="#2a2a2a" stroke-width="1.3"/><ellipse cx="436.7" cy="530" rx="11.6" ry="4" fill="none" stroke="#2a2a2a" stroke-width="1"/></g><g><path d="M433.2,606.1 L433.2,617.3 Q433.2,619.7 430.4,620.3 L427.6,620.6" fill="#fff" stroke="#2a2a2a" stroke-width="1"/><path d="M409.2,624.3 L409.2,626 Q409.4,627.7 411.5,627.2 L414.3,626.2 Q415.8,625.5 415.8,623.9 L415.8,622.1" fill="#fff" stroke="#2a2a2a" stroke-width="0.9"/><line x1="412.5" y1="623.5" x2="412.5" y2="626.7" stroke="#2a2a2a" stroke-width="0.7"/><polygon points="405.9,589.7 344.4,560.9 344.4,596.9 405.9,625.7" fill="#fff" stroke="#2a2a2a" stroke-width="1.1" stroke-linejoin="round"/><polygon points="405.9,589.7 429.9,581.3 368.4,552.5 344.4,560.9" fill="#fff" stroke="#2a2a2a" stroke-width="1.1" stroke-linejoin="round"/><polygon points="405.9,589.7 429.9,581.3 429.9,617.3 405.9,625.7" fill="#fff" stroke="#2a2a2a" stroke-width="1.3" stroke-linejoin="round"/><polygon points="408.5,591.5 427.7,585.1 427.7,615.5 408.5,622" fill="#fff" stroke="#2a2a2a" stroke-width="1.1"/><line x1="408.9" y1="607.7" x2="427.5" y2="615.3" stroke="#2a2a2a" stroke-width="0.9"/><path d="M409,592.1 A5.2,8.6 0 0 1 409,609.3" fill="none" stroke="#2a2a2a" stroke-width="0.9"/><path d="M409.2,592.3 A3.9,8.2 0 0 1 409.2,608.7" fill="none" stroke="#2a2a2a" stroke-width="0.7"/><path d="M360.1,531.9 L360,565.9 A15,5.8 0 0 0 390,565.9 L389.3,531.9 A14.6,5.8 0 0 0 360.1,531.9 Z" fill="#fff" stroke="#2a2a2a" stroke-width="1.1"/><ellipse cx="374.7" cy="531.9" rx="14.2" ry="5.5" fill="#fff" stroke="#2a2a2a" stroke-width="1.3"/><ellipse cx="374.7" cy="532.3" rx="11.6" ry="4" fill="none" stroke="#2a2a2a" stroke-width="1"/><line x1="383.5" y1="580.1" x2="383.5" y2="593.7" stroke="#2a2a2a" stroke-width="1"/><path d="M413.9,555.9 L414.4,555.9 A5.6,6.2 0 0 1 413.9,568.3 Z" fill="#fff" stroke="#2a2a2a" stroke-width="1"/><path d="M414.4,558.8 A3,3.3 0 0 1 414.4,565.4" fill="none" stroke="#2a2a2a" stroke-width="0.8"/><path d="M384.3,543.4 L384.3,577.3 A15,5.8 0 0 0 414.3,577.3 L413.5,543.4 A14.6,5.8 0 0 0 384.3,543.4 Z" fill="#fff" stroke="#2a2a2a" stroke-width="1.1"/><ellipse cx="398.9" cy="543.4" rx="14.2" ry="5.5" fill="#fff" stroke="#2a2a2a" stroke-width="1.3"/><ellipse cx="398.9" cy="543.8" rx="11.6" ry="4" fill="none" stroke="#2a2a2a" stroke-width="1"/></g><g><path d="M395.4,619.8 L395.4,631 Q395.4,633.4 392.6,634 L389.8,634.3" fill="#fff" stroke="#2a2a2a" stroke-width="1"/><path d="M371.4,638 L371.4,639.7 Q371.6,641.4 373.7,640.9 L376.5,639.9 Q378,639.2 378,637.6 L378,635.8" fill="#fff" stroke="#2a2a2a" stroke-width="0.9"/><line x1="374.7" y1="637.2" x2="374.7" y2="640.4" stroke="#2a2a2a" stroke-width="0.7"/><polygon points="368.1,603.4 306.6,574.6 306.6,610.6 368.1,639.4" fill="#fff" stroke="#2a2a2a" stroke-width="1.1" stroke-linejoin="round"/><polygon points="368.1,603.4 392.1,595 330.6,566.2 306.6,574.6" fill="#fff" stroke="#2a2a2a" stroke-width="1.1" stroke-linejoin="round"/><polygon points="368.1,603.4 392.1,595 392.1,631 368.1,639.4" fill="#fff" stroke="#2a2a2a" stroke-width="1.3" stroke-linejoin="round"/><polygon points="370.7,605.2 389.9,598.8 389.9,629.2 370.7,635.7" fill="#fff" stroke="#2a2a2a" stroke-width="1.1"/><line x1="371.1" y1="621.4" x2="389.7" y2="629" stroke="#2a2a2a" stroke-width="0.9"/><path d="M371.2,605.8 A5.2,8.6 0 0 1 371.2,623" fill="none" stroke="#2a2a2a" stroke-width="0.9"/><path d="M371.4,606 A3.9,8.2 0 0 1 371.4,622.4" fill="none" stroke="#2a2a2a" stroke-width="0.7"/><path d="M322.3,545.6 L322.2,579.6 A15,5.8 0 0 0 352.2,579.6 L351.5,545.6 A14.6,5.8 0 0 0 322.3,545.6 Z" fill="#fff" stroke="#2a2a2a" stroke-width="1.1"/><ellipse cx="336.9" cy="545.6" rx="14.2" ry="5.5" fill="#fff" stroke="#2a2a2a" stroke-width="1.3"/><ellipse cx="336.9" cy="546" rx="11.6" ry="4" fill="none" stroke="#2a2a2a" stroke-width="1"/><line x1="345.7" y1="593.8" x2="345.7" y2="607.4" stroke="#2a2a2a" stroke-width="1"/><path d="M376.1,569.6 L376.6,569.6 A5.6,6.2 0 0 1 376.1,582 Z" fill="#fff" stroke="#2a2a2a" stroke-width="1"/><path d="M376.6,572.5 A3,3.3 0 0 1 376.6,579.1" fill="none" stroke="#2a2a2a" stroke-width="0.8"/><path d="M346.5,557.1 L346.5,591 A15,5.8 0 0 0 376.5,591 L375.7,557.1 A14.6,5.8 0 0 0 346.5,557.1 Z" fill="#fff" stroke="#2a2a2a" stroke-width="1.1"/><ellipse cx="361.1" cy="557.1" rx="14.2" ry="5.5" fill="#fff" stroke="#2a2a2a" stroke-width="1.3"/><ellipse cx="361.1" cy="557.5" rx="11.6" ry="4" fill="none" stroke="#2a2a2a" stroke-width="1"/></g><g><path d="M357.6,633.6 L357.6,644.8 Q357.6,647.2 354.8,647.8 L352,648.1" fill="#fff" stroke="#2a2a2a" stroke-width="1"/><path d="M333.6,651.8 L333.6,653.5 Q333.8,655.2 335.9,654.7 L338.7,653.7 Q340.2,653 340.2,651.4 L340.2,649.6" fill="#fff" stroke="#2a2a2a" stroke-width="0.9"/><line x1="336.9" y1="651" x2="336.9" y2="654.2" stroke="#2a2a2a" stroke-width="0.7"/><polygon points="330.3,617.2 268.8,588.4 268.8,624.4 330.3,653.2" fill="#fff" stroke="#2a2a2a" stroke-width="1.1" stroke-linejoin="round"/><polygon points="330.3,617.2 354.3,608.8 292.8,580 268.8,588.4" fill="#fff" stroke="#2a2a2a" stroke-width="1.1" stroke-linejoin="round"/><polygon points="330.3,617.2 354.3,608.8 354.3,644.8 330.3,653.2" fill="#fff" stroke="#2a2a2a" stroke-width="1.3" stroke-linejoin="round"/><polygon points="332.9,619 352.1,612.6 352.1,643 332.9,649.5" fill="#fff" stroke="#2a2a2a" stroke-width="1.1"/><line x1="333.3" y1="635.2" x2="351.9" y2="642.8" stroke="#2a2a2a" stroke-width="0.9"/><path d="M333.4,619.6 A5.2,8.6 0 0 1 333.4,636.8" fill="none" stroke="#2a2a2a" stroke-width="0.9"/><path d="M333.6,619.8 A3.9,8.2 0 0 1 333.6,636.2" fill="none" stroke="#2a2a2a" stroke-width="0.7"/><path d="M284.5,559.4 L284.4,593.4 A15,5.8 0 0 0 314.4,593.4 L313.7,559.4 A14.6,5.8 0 0 0 284.5,559.4 Z" fill="#fff" stroke="#2a2a2a" stroke-width="1.1"/><ellipse cx="299.1" cy="559.4" rx="14.2" ry="5.5" fill="#fff" stroke="#2a2a2a" stroke-width="1.3"/><ellipse cx="299.1" cy="559.8" rx="11.6" ry="4" fill="none" stroke="#2a2a2a" stroke-width="1"/><line x1="307.9" y1="607.6" x2="307.9" y2="621.2" stroke="#2a2a2a" stroke-width="1"/><path d="M338.3,583.4 L338.8,583.4 A5.6,6.2 0 0 1 338.3,595.8 Z" fill="#fff" stroke="#2a2a2a" stroke-width="1"/><path d="M338.8,586.3 A3,3.3 0 0 1 338.8,592.9" fill="none" stroke="#2a2a2a" stroke-width="0.8"/><path d="M308.7,570.9 L308.7,604.8 A15,5.8 0 0 0 338.7,604.8 L337.9,570.9 A14.6,5.8 0 0 0 308.7,570.9 Z" fill="#fff" stroke="#2a2a2a" stroke-width="1.1"/><ellipse cx="323.3" cy="570.9" rx="14.2" ry="5.5" fill="#fff" stroke="#2a2a2a" stroke-width="1.3"/><ellipse cx="323.3" cy="571.3" rx="11.6" ry="4" fill="none" stroke="#2a2a2a" stroke-width="1"/><ellipse cx="330.7" cy="587.6" rx="11.2" ry="4.6" fill="none" stroke="#2a2a2a" stroke-width="1"/></g><g><path d="M319.8,647.4 L319.8,658.6 Q319.8,661 317,661.6 L314.2,661.9" fill="#fff" stroke="#2a2a2a" stroke-width="1"/><path d="M295.8,665.6 L295.8,667.3 Q296,669 298.1,668.5 L300.9,667.5 Q302.4,666.8 302.4,665.2 L302.4,663.4" fill="#fff" stroke="#2a2a2a" stroke-width="0.9"/><line x1="299.1" y1="664.8" x2="299.1" y2="668" stroke="#2a2a2a" stroke-width="0.7"/><polygon points="292.5,631 231,602.2 231,638.2 292.5,667" fill="#fff" stroke="#2a2a2a" stroke-width="1.1" stroke-linejoin="round"/><polygon points="292.5,631 316.5,622.6 255,593.8 231,602.2" fill="#fff" stroke="#2a2a2a" stroke-width="1.1" stroke-linejoin="round"/><polygon points="292.5,631 316.5,622.6 316.5,658.6 292.5,667" fill="#fff" stroke="#2a2a2a" stroke-width="1.3" stroke-linejoin="round"/><polygon points="295.1,632.8 314.3,626.4 314.3,656.8 295.1,663.3" fill="#fff" stroke="#2a2a2a" stroke-width="1.1"/><line x1="295.5" y1="649" x2="314.1" y2="656.6" stroke="#2a2a2a" stroke-width="0.9"/><path d="M295.6,633.4 A5.2,8.6 0 0 1 295.6,650.6" fill="none" stroke="#2a2a2a" stroke-width="0.9"/><path d="M295.8,633.6 A3.9,8.2 0 0 1 295.8,650" fill="none" stroke="#2a2a2a" stroke-width="0.7"/><path d="M246.7,573.2 L246.6,607.2 A15,5.8 0 0 0 276.6,607.2 L275.9,573.2 A14.6,5.8 0 0 0 246.7,573.2 Z" fill="#fff" stroke="#2a2a2a" stroke-width="1.1"/><ellipse cx="261.3" cy="573.2" rx="14.2" ry="5.5" fill="#fff" stroke="#2a2a2a" stroke-width="1.3"/><ellipse cx="261.3" cy="573.6" rx="11.6" ry="4" fill="none" stroke="#2a2a2a" stroke-width="1"/><line x1="270.1" y1="621.4" x2="270.1" y2="635" stroke="#2a2a2a" stroke-width="1"/><path d="M300.5,597.2 L301,597.2 A5.6,6.2 0 0 1 300.5,609.6 Z" fill="#fff" stroke="#2a2a2a" stroke-width="1"/><path d="M301,600.1 A3,3.3 0 0 1 301,606.7" fill="none" stroke="#2a2a2a" stroke-width="0.8"/><path d="M270.9,584.7 L270.9,618.6 A15,5.8 0 0 0 300.9,618.6 L300.1,584.7 A14.6,5.8 0 0 0 270.9,584.7 Z" fill="#fff" stroke="#2a2a2a" stroke-width="1.1"/><ellipse cx="285.5" cy="584.7" rx="14.2" ry="5.5" fill="#fff" stroke="#2a2a2a" stroke-width="1.3"/><ellipse cx="285.5" cy="585.1" rx="11.6" ry="4" fill="none" stroke="#2a2a2a" stroke-width="1"/></g><g><path d="M282,661.2 L282,672.4 Q282,674.8 279.2,675.4 L276.4,675.7" fill="#fff" stroke="#2a2a2a" stroke-width="1"/><path d="M258,679.4 L258,681.1 Q258.2,682.8 260.3,682.3 L263.1,681.3 Q264.6,680.6 264.6,679 L264.6,677.2" fill="#fff" stroke="#2a2a2a" stroke-width="0.9"/><line x1="261.3" y1="678.6" x2="261.3" y2="681.8" stroke="#2a2a2a" stroke-width="0.7"/><polygon points="254.7,644.8 193.2,616 193.2,652 254.7,680.8" fill="#fff" stroke="#2a2a2a" stroke-width="1.1" stroke-linejoin="round"/><polygon points="254.7,644.8 278.7,636.4 217.2,607.6 193.2,616" fill="#fff" stroke="#2a2a2a" stroke-width="1.1" stroke-linejoin="round"/><ellipse cx="254.2" cy="657.1" rx="7.7" ry="9.6" transform="rotate(14 254.2 657.1)" fill="none" stroke="#2a2a2a" stroke-width="1"/><polygon points="254.7,644.8 278.7,636.4 278.7,672.4 254.7,680.8" fill="#fff" stroke="#2a2a2a" stroke-width="1.3" stroke-linejoin="round"/><polygon points="257.3,646.6 276.5,640.2 276.5,670.6 257.3,677.1" fill="#fff" stroke="#2a2a2a" stroke-width="1.1"/><line x1="257.7" y1="662.8" x2="276.3" y2="670.4" stroke="#2a2a2a" stroke-width="0.9"/><path d="M257.8,647.2 A5.2,8.6 0 0 1 257.8,664.4" fill="none" stroke="#2a2a2a" stroke-width="0.9"/><path d="M258,647.4 A3.9,8.2 0 0 1 258,663.8" fill="none" stroke="#2a2a2a" stroke-width="0.7"/><path d="M208.9,587 L208.8,621 A15,5.8 0 0 0 238.8,621 L238.1,587 A14.6,5.8 0 0 0 208.9,587 Z" fill="#fff" stroke="#2a2a2a" stroke-width="1.1"/><ellipse cx="223.5" cy="587" rx="14.2" ry="5.5" fill="#fff" stroke="#2a2a2a" stroke-width="1.3"/><ellipse cx="223.5" cy="587.4" rx="11.6" ry="4" fill="none" stroke="#2a2a2a" stroke-width="1"/><line x1="232.3" y1="635.2" x2="232.3" y2="648.8" stroke="#2a2a2a" stroke-width="1"/><path d="M262.7,611 L263.2,611 A5.6,6.2 0 0 1 262.7,623.4 Z" fill="#fff" stroke="#2a2a2a" stroke-width="1"/><path d="M263.2,613.9 A3,3.3 0 0 1 263.2,620.5" fill="none" stroke="#2a2a2a" stroke-width="0.8"/><path d="M233.1,598.5 L233.1,632.4 A15,5.8 0 0 0 263.1,632.4 L262.3,598.5 A14.6,5.8 0 0 0 233.1,598.5 Z" fill="#fff" stroke="#2a2a2a" stroke-width="1.1"/><ellipse cx="247.7" cy="598.5" rx="14.2" ry="5.5" fill="#fff" stroke="#2a2a2a" stroke-width="1.3"/><ellipse cx="247.7" cy="598.9" rx="11.6" ry="4" fill="none" stroke="#2a2a2a" stroke-width="1"/></g><g><path d="M244.2,675 L244.2,686.2 Q244.2,688.6 241.4,689.2 L238.6,689.5" fill="#fff" stroke="#2a2a2a" stroke-width="1"/><path d="M220.2,693.2 L220.2,694.9 Q220.4,696.6 222.5,696.1 L225.3,695.1 Q226.8,694.4 226.8,692.8 L226.8,691" fill="#fff" stroke="#2a2a2a" stroke-width="0.9"/><line x1="223.5" y1="692.4" x2="223.5" y2="695.6" stroke="#2a2a2a" stroke-width="0.7"/><polygon points="216.9,658.6 155.4,629.8 155.4,665.8 216.9,694.6" fill="#fff" stroke="#2a2a2a" stroke-width="1.1" stroke-linejoin="round"/><polygon points="216.9,658.6 240.9,650.2 179.4,621.4 155.4,629.8" fill="#fff" stroke="#2a2a2a" stroke-width="1.1" stroke-linejoin="round"/><polygon points="216.9,658.6 240.9,650.2 240.9,686.2 216.9,694.6" fill="#fff" stroke="#2a2a2a" stroke-width="1.3" stroke-linejoin="round"/><polygon points="219.5,660.4 238.7,654 238.7,684.4 219.5,690.9" fill="#fff" stroke="#2a2a2a" stroke-width="1.1"/><line x1="219.9" y1="676.6" x2="238.5" y2="684.2" stroke="#2a2a2a" stroke-width="0.9"/><path d="M220,661 A5.2,8.6 0 0 1 220,678.2" fill="none" stroke="#2a2a2a" stroke-width="0.9"/><path d="M220.2,661.2 A3.9,8.2 0 0 1 220.2,677.6" fill="none" stroke="#2a2a2a" stroke-width="0.7"/><path d="M171.1,600.8 L171,634.8 A15,5.8 0 0 0 201,634.8 L200.3,600.8 A14.6,5.8 0 0 0 171.1,600.8 Z" fill="#fff" stroke="#2a2a2a" stroke-width="1.1"/><ellipse cx="185.7" cy="600.8" rx="14.2" ry="5.5" fill="#fff" stroke="#2a2a2a" stroke-width="1.3"/><ellipse cx="185.7" cy="601.2" rx="11.6" ry="4" fill="none" stroke="#2a2a2a" stroke-width="1"/><line x1="175.6" y1="604.4" x2="186" y2="600.6" stroke="#2a2a2a" stroke-width="1"/><path d="M224.9,624.8 L225.4,624.8 A5.6,6.2 0 0 1 224.9,637.2 Z" fill="#fff" stroke="#2a2a2a" stroke-width="1"/><path d="M225.4,627.7 A3,3.3 0 0 1 225.4,634.3" fill="none" stroke="#2a2a2a" stroke-width="0.8"/><path d="M195.3,612.3 L195.3,646.2 A15,5.8 0 0 0 225.3,646.2 L224.5,612.3 A14.6,5.8 0 0 0 195.3,612.3 Z" fill="#fff" stroke="#2a2a2a" stroke-width="1.1"/><ellipse cx="209.9" cy="612.3" rx="14.2" ry="5.5" fill="#fff" stroke="#2a2a2a" stroke-width="1.3"/><ellipse cx="209.9" cy="612.7" rx="11.6" ry="4" fill="none" stroke="#2a2a2a" stroke-width="1"/></g><line x1="185.5" y1="549.1" x2="185.5" y2="594.6" stroke="#2a2a2a" stroke-width="0.9"/><line x1="209.5" y1="560.2" x2="209.5" y2="606" stroke="#2a2a2a" stroke-width="0.9"/><line x1="247.5" y1="546.4" x2="247.5" y2="592.5" stroke="#2a2a2a" stroke-width="0.9"/><line x1="185.4" y1="556.5" x2="209.4" y2="567.1" stroke="#2a2a2a" stroke-width="0.9"/><polygon points="185.4,556.5 192.4,558 191.2,560.7" fill="#2a2a2a"/><polygon points="209.4,567.1 202.4,565.6 203.6,562.9" fill="#2a2a2a"/><line x1="209.4" y1="567.1" x2="247.8" y2="553.8" stroke="#2a2a2a" stroke-width="0.9"/><polygon points="209.4,567.1 215.5,563.4 216.5,566.2" fill="#2a2a2a"/><polygon points="247.8,553.8 241.7,557.5 240.7,554.7" fill="#2a2a2a"/><text x="0" y="0" font-size="13" fill="#333" text-anchor="middle" transform="translate(195.2,554.5) skewY(24) scale(0.72,1)" stroke="#333" stroke-width="0.3">7.3</text><text x="0" y="0" font-size="13" fill="#333" text-anchor="middle" transform="translate(227.3,555) skewY(-19) scale(0.7,1)" stroke="#333" stroke-width="0.3">10.0</text><line x1="112.6" y1="575.9" x2="168.2" y2="602.4" stroke="#2a2a2a" stroke-width="0.9"/><line x1="112" y1="661.9" x2="164.2" y2="686.6" stroke="#2a2a2a" stroke-width="0.9"/><line x1="119.5" y1="579.4" x2="119.5" y2="664.1" stroke="#2a2a2a" stroke-width="0.9"/><polygon points="119.7,579.4 121.2,586.4 118.2,586.4" fill="#2a2a2a"/><polygon points="119.7,664.1 118.2,657.1 121.2,657.1" fill="#2a2a2a"/><text x="0" y="0" font-size="13.8" fill="#333" text-anchor="middle" transform="translate(113.9,621.5) rotate(-90) scale(0.7,1)" stroke="#333" stroke-width="0.3">B</text><line x1="132.9" y1="620" x2="149.7" y2="628" stroke="#2a2a2a" stroke-width="0.9"/><line x1="132.9" y1="656.2" x2="149.7" y2="664.1" stroke="#2a2a2a" stroke-width="0.9"/><line x1="139.5" y1="621.8" x2="139.5" y2="658" stroke="#2a2a2a" stroke-width="0.9"/><polygon points="139.6,621.8 141.1,628.8 138.1,628.8" fill="#2a2a2a"/><polygon points="139.6,658 138.1,651 141.1,651" fill="#2a2a2a"/><text x="0" y="0" font-size="12" fill="#333" text-anchor="middle" transform="translate(134,641.2) rotate(-90) scale(0.78,1)" stroke="#333" stroke-width="0.3">8.0</text><line x1="149" y1="667.2" x2="77.8" y2="694.9" stroke="#2a2a2a" stroke-width="0.9"/><line x1="211.5" y1="696.5" x2="139.9" y2="724.1" stroke="#2a2a2a" stroke-width="0.9"/><line x1="84.2" y1="693" x2="146.3" y2="722.8" stroke="#2a2a2a" stroke-width="0.9"/><polygon points="84.2,693 91.2,694.7 89.9,697.4" fill="#2a2a2a"/><polygon points="146.3,722.8 139.3,721.1 140.6,718.4" fill="#2a2a2a"/><text x="0" y="0" font-size="12.5" fill="#333" text-anchor="middle" transform="translate(122,704) skewY(23) scale(0.66,1)" stroke="#333" stroke-width="0.3">18.6</text><line x1="163.2" y1="673.6" x2="121.8" y2="689.2" stroke="#2a2a2a" stroke-width="0.9"/><line x1="196.8" y1="690.5" x2="155.4" y2="706" stroke="#2a2a2a" stroke-width="0.9"/><line x1="125.6" y1="687.9" x2="160.6" y2="704.5" stroke="#2a2a2a" stroke-width="0.9"/><polygon points="125.6,687.9 132.6,689.5 131.3,692.3" fill="#2a2a2a"/><polygon points="160.6,704.5 153.6,702.9 154.9,700.1" fill="#2a2a2a"/><text x="0" y="0" font-size="12.5" fill="#333" text-anchor="middle" transform="translate(150.9,696) skewY(23) scale(0.66,1)" stroke="#333" stroke-width="0.3">12.5</text><line x1="169.4" y1="672.5" x2="202.2" y2="687.8" stroke="#fff" stroke-width="2.2"/><line x1="169.2" y1="672.4" x2="202.4" y2="688" stroke="#2a2a2a" stroke-width="1.0" stroke-dasharray="4.6 2.3"/><path d="M168.5,672.5 L168.5,685 Q168.5,690.5 174.8,691 L198.8,702.2" fill="none" stroke="#2a2a2a" stroke-width="1"/><path d="M202.8,688.2 L202.8,700 Q202.8,702.8 205,702 Q206.3,701.3 206.3,699.5 L206.3,689.8" fill="#fff" stroke="#2a2a2a" stroke-width="0.9"/><path d="M197.5,701.4 Q200.5,703.8 204,702.4" fill="none" stroke="#2a2a2a" stroke-width="0.9"/><line x1="220.1" y1="695.6" x2="251.2" y2="711.2" stroke="#2a2a2a" stroke-width="0.9"/><line x1="207.2" y1="707.3" x2="270.6" y2="734.5" stroke="#2a2a2a" stroke-width="0.9"/><line x1="245.5" y1="694.3" x2="245.5" y2="748.7" stroke="#2a2a2a" stroke-width="0.9"/><polygon points="245.4,707.8 243.9,700.8 246.9,700.8" fill="#2a2a2a"/><polygon points="245.4,724.3 246.9,731.3 243.9,731.3" fill="#2a2a2a"/><text x="0" y="0" font-size="14" fill="#333" transform="matrix(0,-0.6,1,0.31,239.5,741.6)">F</text><line x1="645.9" y1="544.7" x2="711.7" y2="576" stroke="#2a2a2a" stroke-width="0.9"/><line x1="263.3" y1="732.5" x2="703.5" y2="572.7" stroke="#2a2a2a" stroke-width="0.9"/><polygon points="263.3,732.5 269.4,728.7 270.4,731.5" fill="#2a2a2a"/><polygon points="703.5,572.7 697.4,576.5 696.4,573.7" fill="#2a2a2a"/><text x="0" y="0" font-size="15.5" fill="#333" text-anchor="middle" transform="translate(482.3,648.6) skewY(-20) scale(0.62,1)" stroke="#333" stroke-width="0.3">A</text><line x1="251.2" y1="661.5" x2="310.3" y2="688.8" stroke="#2a2a2a" stroke-width="0.9"/><line x1="266.2" y1="656.2" x2="326.2" y2="683.5" stroke="#2a2a2a" stroke-width="0.9"/><line x1="284.7" y1="692.3" x2="359.7" y2="665.5" stroke="#2a2a2a" stroke-width="0.9"/><polygon points="303.4,685.6 297.3,689.4 296.3,686.5" fill="#2a2a2a"/><polygon points="318.8,679.5 324.9,675.7 325.9,678.6" fill="#2a2a2a"/><text x="0" y="0" font-size="12" fill="#333" text-anchor="middle" transform="translate(336,669.5) skewY(-20) scale(0.8,1)" stroke="#333" stroke-width="0.3">&#216;3.5</text><line x1="322.5" y1="513" x2="322.5" y2="564" stroke="#2a2a2a" stroke-width="0.9"/><line x1="337.5" y1="507" x2="337.5" y2="555" stroke="#2a2a2a" stroke-width="0.9"/><line x1="303.1" y1="527.3" x2="451.8" y2="472.7" stroke="#2a2a2a" stroke-width="0.9"/><polygon points="322.2,520.3 316.2,524.1 315.1,521.3" fill="#2a2a2a"/><polygon points="337.5,514.7 343.6,510.9 344.6,513.7" fill="#2a2a2a"/><text x="0" y="0" font-size="12.5" fill="#262626" text-anchor="start" transform="translate(346,472.5) skewY(-20) scale(0.76,1)" letter-spacing="-0.15" stroke="#262626" stroke-width="0.3">Befestigungsloch</text><text x="0" y="0" font-size="12.5" fill="#777777" text-anchor="start" transform="translate(345.8,488.5) skewY(-20) scale(0.78,1)" stroke="#777777" stroke-width="0.3">mounting hole</text><text x="0" y="0" font-size="12.5" fill="#262626" text-anchor="start" transform="translate(346,506.5) skewY(-20) scale(0.74,1)" stroke="#262626" stroke-width="0.3">&#216;3.6&#160;&#160;(standard)</text><text x="0" y="0" font-size="24" fill="#333" text-anchor="start" transform="translate(15.8,505.2) scale(0.707,1)" letter-spacing="0.6">EKL 1BEF .. PA</text><text x="0" y="0" font-size="23" fill="#1e1e1e" text-anchor="start" transform="translate(547.5,716.6) scale(0.84,1)" letter-spacing="0.45" stroke="#fff" stroke-width="0.3">B = 15 mm</text><text x="0" y="0" font-size="23" fill="#1e1e1e" text-anchor="start" transform="translate(547.5,742.9) scale(0.80,1)" letter-spacing="0.3" stroke="#fff" stroke-width="0.3">+ Fu&#223;h&#246;he</text><line x1="649.5" y1="725.8" x2="649.5" y2="748.4" stroke="#2a2a2a" stroke-width="1.0"/><text x="0" y="0" font-size="23" fill="#666" text-anchor="start" transform="translate(660.5,742.9) scale(0.83,1)" font-style="italic" letter-spacing="0.3" stroke="#fff" stroke-width="0.3">+ raised base height</text></svg></body></html>
